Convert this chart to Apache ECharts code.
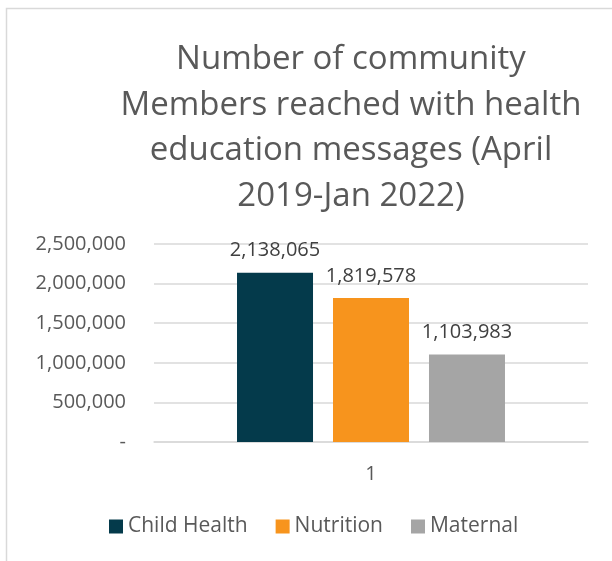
<!DOCTYPE html>
<html>
<head>
<meta charset="utf-8">
<script src="https://cdn.jsdelivr.net/npm/echarts@6/dist/echarts.min.js"></script>
<style>
html,body{margin:0;padding:0;background:#fff;}
#c{width:612px;height:561px;}
</style>
</head>
<body>
<div id="c"></div>
<script>
const titleLines = ["Number of community", "Members reached with health", "education messages (April", "2019-Jan 2022)"];
const categories = ["1"];
const seriesNames = ["Child Health", "Nutrition", "Maternal"];
const childHealth = [2138065];
const nutrition = [1819578];
const maternal = [1103983];
const yTicks = [0, 500000, 1000000, 1500000, 2000000, 2500000];

const colors = ["#043A4B", "#F7941D", "#A5A5A5"];
const font = "'Open Sans', Lato, sans-serif";
const fmt = v => v === 0 ? "-" : Number(v).toLocaleString("en-US");

const chart = echarts.init(document.getElementById("c"), null, {renderer: "canvas"});
const values = [childHealth, nutrition, maternal];

chart.setOption({
  animation: false,
  backgroundColor: "#fff",
  graphic: [{
    type: "rect",
    shape: {x: 6.5, y: 8.5, width: 800, height: 800},
    style: {fill: null, stroke: "#d9d9d9", lineWidth: 1.5},
    silent: true, z: -1
  }],
  title: {
    text: titleLines.join("\n"),
    left: 346,
    top: 32,
    textAlign: "center",
    textStyle: {fontFamily: font, fontSize: 33, fontWeight: "normal", color: "#595959", lineHeight: 45.5}
  },
  legend: {
    data: seriesNames,
    bottom: 19,
    left: 104,
    itemWidth: 14,
    itemHeight: 14,
    itemGap: 28,
    icon: "rect",
    textStyle: {fontFamily: font, fontSize: 21, color: "#595959"}
  },
  grid: {left: 154, right: 24, top: 244, bottom: 119},
  xAxis: {
    type: "category",
    data: categories,
    axisLine: {show: true, lineStyle: {color: "#d9d9d9", width: 1.5}},
    axisTick: {show: false},
    axisLabel: {fontFamily: font, fontSize: 20, color: "#595959", margin: 22}
  },
  yAxis: {
    type: "value",
    min: yTicks[0],
    max: yTicks[yTicks.length - 1],
    interval: yTicks[1] - yTicks[0],
    axisLine: {show: false},
    axisTick: {show: false},
    splitLine: {lineStyle: {color: "#d9d9d9", width: 1.5}},
    axisLabel: {fontFamily: font, fontSize: 20, color: "#595959", margin: 28, formatter: fmt}
  },
  series: seriesNames.map((name, i) => ({
    name: name,
    type: "bar",
    data: values[i],
    barWidth: 76,
    barGap: "26.3%",
    itemStyle: {color: colors[i]},
    label: {
      show: true,
      position: "top",
      distance: 12,
      fontFamily: font,
      fontSize: 20,
      color: "#404040",
      formatter: p => fmt(p.value)
    }
  }))
});
</script>
</body>
</html>
